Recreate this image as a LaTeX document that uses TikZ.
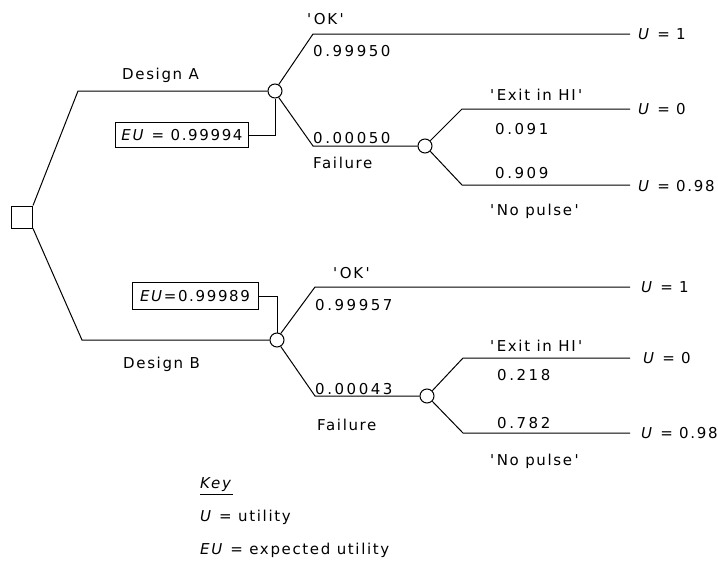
\documentclass[tikz,border=0pt]{standalone}
\usepackage{fontspec}
\setmainfont{DejaVu Sans}
\newfontfamily\lblfont{DejaVu Sans}[LetterSpace=11]
\newfontfamily\numfont{DejaVu Sans}[LetterSpace=17]
\tikzset{
  lbl/.style={font=\lblfont\fontsize{15}{18}\selectfont, inner sep=0pt, anchor=base west},
  num/.style={font=\numfont\fontsize{15}{18}\selectfont, inner sep=0pt, anchor=base west},
  chance/.style={circle, draw, line width=1pt, minimum size=14pt, inner sep=0pt, fill=white},
  decision/.style={rectangle, draw, line width=1pt, minimum width=21pt, minimum height=22pt, inner sep=0pt},
  eubox/.style={rectangle, draw, line width=1pt, inner sep=0pt, font=\lblfont\fontsize{15}{18}\selectfont},
  branch/.style={line width=1pt},
  ulbl/.style={font=\lblfont\fontsize{15}{18}\selectfont, inner sep=0pt, anchor=west},
}
\newcommand{\ql}{\textquotesingle\hspace{2.5pt}}
\newcommand{\qr}{\hspace{2.5pt}\textquotesingle}
\begin{document}
\begin{tikzpicture}[x=1pt, y=-1pt]
\useasboundingbox (0,0) rectangle (718,560);
% decision node
\node[decision] (sq) at (22,217) {};
% Design A
\node[chance] (cA) at (275,91) {};
\coordinate (kA) at (78,91);
\draw[branch] (sq.north east) -- (kA) -- (cA.west);
\node[lbl] (dA) at (122,79) {Design A};
\node[eubox, minimum width=133pt, minimum height=25pt] (euA) at (182,135) {\textit{EU} = 0.99994};
\draw[branch] (euA.east) -| (cA.south);
% A ok
\coordinate (kA1) at (313,34);
\coordinate (eA1) at (630,34);
\draw[branch] (cA.60) -- (kA1) -- (eA1);
\node[lbl] (okA) at (307,24) {\ql OK\qr};
\node[num] (pA1) at (313,56) {0.99950};
\node[ulbl] (uA1) at (638,34) {\textit{U} = 1};
% A failure
\node[chance] (cA2) at (425,146) {};
\coordinate (kA2) at (313,146);
\draw[branch] (cA.-60) -- (kA2) -- (cA2.west);
\node[num] (pA2) at (313,143) {0.00050};
\node[lbl] (fA) at (313,168) {Failure};
% A exit
\coordinate (kA3) at (462,109);
\coordinate (eA3) at (630,109);
\draw[branch] (cA2.45) -- (kA3) -- (eA3);
\node[lbl] (exA) at (490,100) {\ql Exit in HI\qr};
\node[num] (pA3) at (495,134) {0.091};
\node[ulbl] (uA3) at (638,109) {\textit{U} = 0};
% A no pulse
\coordinate (kA4) at (462,185);
\coordinate (eA4) at (630,185);
\draw[branch] (cA2.-45) -- (kA4) -- (eA4);
\node[num] (pA4) at (495,178) {0.909};
\node[lbl] (npA) at (490,215) {\ql No pulse\qr};
\node[ulbl] (uA4) at (638,186) {\textit{U} = 0.98};
% Design B
\node[chance] (cB) at (277,340) {};
\coordinate (kB) at (82,340);
\draw[branch] (sq.south east) -- (kB) -- (cB.west);
\node[lbl] (dB) at (123,368) {Design B};
\node[eubox, minimum width=126pt, minimum height=27pt] (euB) at (195,296) {\textit{EU}=0.99989};
\draw[branch] (euB.east) -| (cB.north);
% B ok
\coordinate (kB1) at (315,287);
\coordinate (eB1) at (630,287);
\draw[branch] (cB.60) -- (kB1) -- (eB1);
\node[lbl] (okB) at (333,278) {\ql OK\qr};
\node[num] (pB1) at (315,310) {0.99957};
\node[ulbl] (uB1) at (641,287) {\textit{U} = 1};
% B failure
\node[chance] (cB2) at (427,396) {};
\coordinate (kB2) at (315,396);
\draw[branch] (cB.-60) -- (kB2) -- (cB2.west);
\node[num] (pB2) at (315,394) {0.00043};
\node[lbl] (fB) at (317,430) {Failure};
% B exit
\coordinate (kB3) at (463,358);
\coordinate (eB3) at (630,358);
\draw[branch] (cB2.45) -- (kB3) -- (eB3);
\node[lbl] (exB) at (490,351) {\ql Exit in HI\qr};
\node[num] (pB3) at (497,380) {0.218};
\node[ulbl] (uB3) at (643,358) {\textit{U} = 0};
% B no pulse
\coordinate (kB4) at (463,433);
\coordinate (eB4) at (630,433);
\draw[branch] (cB2.-45) -- (kB4) -- (eB4);
\node[num] (pB4) at (497,428) {0.782};
\node[lbl] (npB) at (490,465) {\ql No pulse\qr};
\node[ulbl] (uB4) at (641,433) {\textit{U} = 0.98};
% Key
\node[lbl] (key) at (200,488) {\textit{Key}};
\draw[line width=1pt] ([yshift=-6pt]key.base west) -- ([yshift=-6pt]key.base east);
\node[lbl] (keyU) at (200,521) {\textit{U} = utility};
\node[lbl] (keyEU) at (200,554) {\textit{EU} = expected utility};
\end{tikzpicture}
\end{document}
